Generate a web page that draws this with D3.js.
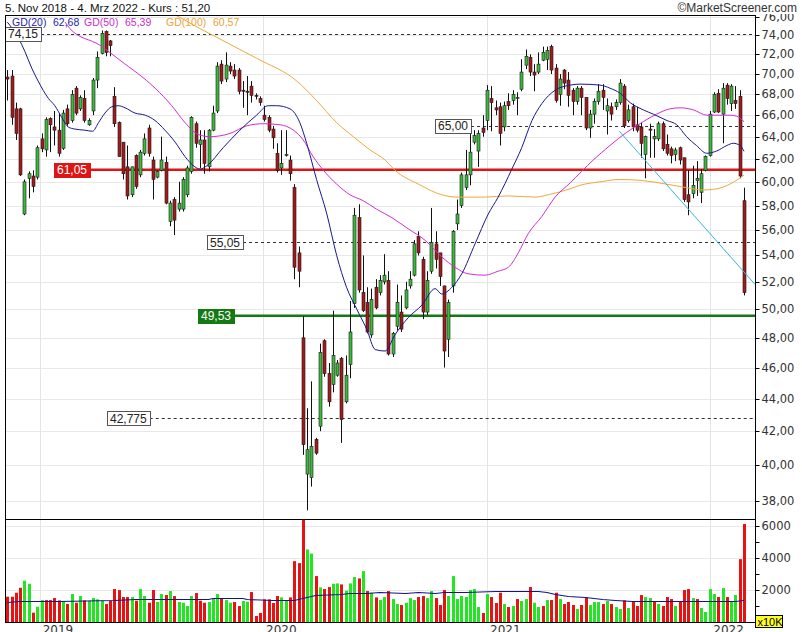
<!DOCTYPE html>
<html lang="de">
<head>
<meta charset="UTF-8">
<title>Kurs 5. Nov 2018 - 4. Mrz 2022</title>
<style>
  body { margin: 0; padding: 0; background: #fff; }
  svg { display: block; font-family: "Liberation Sans", Arial, sans-serif; }
  .axis text { font-family: "DejaVu Sans", Verdana, sans-serif; font-size: 11.5px; fill: #333; }
  .axis line { stroke: #000; }
  .axis path { display: none; }
</style>
</head>
<body>
<svg id="chart" width="802" height="632"></svg>
<script src="https://d3js.org/d3.v7.min.js"></script>
<script>
// weekly candles, Nov 2018 - Mar 2022
const opens = [
  69.7, 69.8, 66.6, 66.6, 57.3, 60.3, 60.5, 60.4, 63.8, 62.8,
  65.7, 64.9, 64.6, 62.95, 66.6, 65.5, 68.6, 66.6, 67.6, 65.1,
  66.4, 69.4, 72.1, 74.4, 73.4, 67.8, 65.3, 63.5, 61.3, 58.9,
  62.3, 60.6, 62.5, 64.8, 61.9, 60.4, 61.0, 61.7, 56.7, 58.5,
  57.7, 57.7, 58.9, 60.9, 65.2, 63.3, 63.7, 61.3, 64.6, 66.4,
  71.0, 69.5, 70.8, 70.4, 70.4, 68.4, 68.3, 68.8, 67.9, 67.6,
  66.0, 65.8, 64.7, 62.5, 61.2, 62.3, 61.9, 59.5, 54.2, 48.0,
  39.5, 39.3, 41.5, 42.3, 47.8, 45.6, 44.9, 45.5, 46.6, 43.8,
  46.2, 50.4, 57.0, 51.2, 50.5, 48.2, 51.6, 51.2, 52.0, 52.1,
  46.9, 48.8, 49.8, 50.1, 51.7, 52.5, 55.5, 53.7, 49.8, 52.8,
  54.9, 54.2, 51.7, 47.9, 51.7, 56.5, 58.0, 59.5, 60.6, 63.5,
  62.7, 64.8, 65.5, 67.6, 66.7, 66.8, 64.9, 67.3, 67.4, 67.7,
  68.5, 70.9, 71.7, 70.2, 70.2, 71.4, 71.5, 72.8, 70.6, 68.0,
  70.4, 69.4, 68.4, 67.3, 68.6, 67.7, 64.8, 66.1, 67.3, 68.4,
  66.4, 66.8, 66.8, 67.2, 68.8, 65.5, 66.8, 65.1, 64.9, 62.4,
  64.7, 63.8, 63.8, 65.2, 63.3, 62.9, 62.4, 63.0, 62.1, 58.9,
  59.0, 60.1, 59.1, 61.0, 62.3, 66.3, 68.1, 66.1, 68.9, 67.1,
  67.4, 67.8, 58.4
];
const highs = [
  70.4, 70.4, 67.2, 66.7, 60.2, 60.9, 61.0, 63.2, 64.3, 65.8,
  65.8, 66.4, 66.2, 66.5, 67.0, 68.4, 68.8, 67.9, 68.4, 65.7,
  69.6, 72.3, 74.5, 74.5, 73.5, 68.7, 65.4, 63.5, 63.2, 61.3,
  62.4, 62.8, 64.3, 65.1, 62.2, 61.0, 64.0, 62.2, 58.4, 58.7,
  60.0, 60.4, 61.4, 65.9, 65.4, 64.6, 64.6, 64.7, 66.9, 71.2,
  71.4, 72.2, 71.2, 71.0, 70.6, 69.3, 69.8, 69.3, 68.1, 67.8,
  66.9, 66.0, 65.0, 63.4, 64.6, 64.6, 62.3, 59.8, 54.7, 49.5,
  43.4, 45.1, 41.6, 47.6, 47.9, 46.3, 49.9, 46.5, 46.7, 46.8,
  50.6, 57.8, 58.1, 54.0, 51.6, 51.5, 52.2, 52.5, 54.1, 52.8,
  48.4, 51.8, 51.0, 52.0, 52.8, 55.2, 55.9, 53.9, 52.8, 57.8,
  55.9, 54.2, 51.7, 50.7, 56.0, 58.5, 60.8, 62.8, 64.5, 64.6,
  64.6, 66.0, 68.9, 68.8, 67.4, 67.2, 67.3, 68.1, 68.4, 68.2,
  71.5, 72.5, 72.0, 71.0, 72.2, 72.8, 72.8, 73.0, 71.0, 70.0,
  70.5, 70.2, 68.6, 68.8, 68.8, 67.7, 66.5, 67.6, 69.0, 69.0,
  67.6, 67.2, 67.5, 69.5, 69.0, 67.0, 67.1, 66.8, 65.3, 64.1,
  65.2, 64.7, 65.4, 65.4, 64.2, 63.1, 63.0, 63.1, 62.1, 61.0,
  61.4, 61.8, 61.1, 62.3, 66.4, 68.2, 68.5, 69.1, 69.1, 69.0,
  68.8, 68.4, 59.5
];
const lows = [
  67.4, 65.1, 63.7, 60.5, 57.2, 58.6, 59.1, 60.2, 62.6, 62.2,
  62.6, 63.2, 62.2, 62.8, 65.0, 65.3, 66.0, 66.4, 65.3, 65.0,
  66.0, 68.6, 72.0, 71.8, 71.8, 64.9, 62.2, 60.2, 58.5, 58.7,
  59.4, 60.4, 62.3, 62.2, 58.5, 60.3, 60.9, 58.1, 56.3, 55.6,
  57.5, 57.5, 58.7, 60.7, 63.0, 61.2, 60.7, 60.9, 64.5, 66.2,
  69.0, 69.2, 70.0, 69.5, 68.0, 66.7, 66.0, 67.2, 67.5, 66.9,
  65.4, 64.4, 62.9, 60.8, 60.6, 62.2, 60.1, 52.2, 51.6, 40.6,
  37.5, 38.8, 40.6, 42.0, 45.4, 43.5, 44.4, 45.4, 41.3, 43.7,
  45.3, 50.1, 51.2, 49.8, 48.3, 48.0, 50.0, 51.0, 51.8, 46.8,
  46.7, 48.5, 48.4, 50.0, 51.5, 52.4, 54.0, 49.3, 49.6, 52.6,
  53.0, 51.7, 46.0, 46.7, 51.2, 56.0, 57.8, 59.3, 59.7, 63.3,
  61.3, 64.0, 64.6, 64.5, 66.0, 63.2, 64.5, 66.5, 67.0, 66.0,
  68.3, 70.5, 69.8, 68.3, 70.0, 71.3, 70.4, 70.0, 67.2, 66.9,
  68.5, 66.8, 66.0, 67.0, 66.0, 64.6, 63.9, 65.2, 67.0, 66.5,
  64.2, 65.5, 66.5, 67.0, 64.8, 65.3, 64.5, 64.4, 62.1, 60.3,
  62.1, 62.1, 63.6, 62.7, 62.3, 61.6, 61.8, 61.5, 58.3, 57.2,
  58.6, 58.8, 58.2, 60.9, 62.2, 66.2, 66.2, 63.4, 67.0, 66.4,
  66.6, 60.3, 51.0
];
const closes = [
  69.5, 65.8, 64.3, 60.6, 60.0, 60.7, 59.6, 63.0, 62.9, 65.6,
  65.1, 64.6, 62.5, 66.2, 65.2, 68.0, 66.2, 67.7, 65.5, 65.5,
  69.4, 71.7, 74.2, 72.2, 72.9, 65.2, 62.2, 60.7, 58.8, 61.3,
  59.6, 62.6, 63.8, 62.5, 60.2, 60.9, 61.9, 58.2, 58.2, 56.8,
  58.2, 60.2, 61.2, 65.8, 63.4, 63.7, 61.6, 64.6, 66.2, 70.8,
  69.3, 70.9, 70.3, 69.8, 68.3, 68.3, 68.2, 67.9, 67.8, 67.2,
  65.6, 64.6, 63.9, 61.0, 61.6, 62.4, 60.7, 53.1, 52.8, 41.2,
  40.9, 41.1, 40.7, 47.0, 45.6, 43.8, 46.8, 46.3, 42.7, 45.5,
  48.4, 57.2, 51.4, 49.9, 48.4, 50.7, 50.1, 52.1, 52.5, 46.9,
  48.3, 50.5, 48.6, 51.4, 52.2, 54.9, 54.2, 49.8, 52.1, 55.0,
  53.7, 52.4, 47.1, 50.5, 55.9, 57.3, 60.6, 60.6, 62.6, 64.1,
  64.3, 64.4, 68.4, 67.2, 66.5, 64.3, 66.9, 66.9, 68.0, 67.7,
  70.2, 71.8, 70.2, 69.9, 71.0, 72.2, 72.4, 70.4, 67.4, 69.5,
  69.1, 67.9, 67.3, 68.6, 67.7, 64.8, 66.1, 67.3, 68.3, 67.7,
  66.9, 66.1, 67.2, 69.1, 65.0, 66.5, 64.9, 64.6, 63.4, 64.0,
  64.6, 64.0, 65.2, 62.9, 62.5, 62.3, 62.8, 61.9, 58.5, 58.3,
  59.7, 60.3, 60.7, 62.2, 66.1, 68.0, 66.3, 68.6, 67.6, 68.8,
  67.1, 60.5, 51.2
];
// volume in units of 10K
const volumes = [
  1573, 1573, 1822, 2132, 2567, 2380, 580, 952, 1366, 1366,
  1366, 1490, 1345, 1304, 1118, 1739, 1200, 1615, 1345, 1325,
  1490, 1408, 1325, 1118, 1325, 2049, 1987, 1553, 1553, 1553,
  1325, 2049, 1615, 1200, 1987, 1242, 1739, 1677, 1925, 1615,
  1242, 1200, 994, 1615, 1801, 1325, 1200, 1242, 1470, 1739,
  1470, 1366, 1200, 1242, 994, 1304, 1263, 1863, 373, 559,
  1408, 1408, 1180, 1615, 1532, 1304, 1532, 3788, 3664, 6400,
  4513, 4264, 2857, 2153, 2049, 2174, 2380, 2401, 2339, 1946,
  2401, 2795, 2712, 3167, 1925, 1822, 1532, 1366, 1553, 1925,
  1428, 1118, 1056, 1200, 1490, 1366, 1553, 1615, 1490, 1925,
  1490, 1056, 1987, 1615, 2857, 1428, 1615, 1553, 1987, 2049,
  932, 559, 1739, 1553, 1180, 1822, 1118, 932, 994, 1428,
  1304, 1428, 2174, 1200, 932, 994, 1366, 1366, 1822, 1428,
  1118, 1242, 1056, 807, 1056, 1532, 1056, 1242, 1242, 1118,
  1304, 1118, 932, 807, 1345, 869, 1242, 994, 1677, 1553,
  1490, 1242, 1118, 994, 1553, 1428, 994, 1242, 1987, 2049,
  1490, 1428, 869, 621, 2049, 1739, 1553, 2111, 1553, 1242,
  1677, 3912, 6100
];
// g = up bar, r = down bar (volume colours as shown)
const volDir = ("rrrrggrggr" + "rrrgrgrgrg" + "gggrrrrrrg" + "rggrrggrgr" + "ggggrrrggg" +
  "rggrrggrrr" + "rrrrggrrrr" + "ggrgrrggrg" + "ggrgrgrggr" + "ggrgggrrgg" +
  "rrrggggggg" + "grgrrrgrgr" + "ggrggrgrrg" + "rrrgrrgggr" + "grggrgrrrg" +
  "grgrrrgrrr" + "grggggrgrg" + "grr").split("");

// moving averages: [week index, value]
const ma20 = [[0,75.4],[2.6,73.7],[4.1,72.3],[5.7,70.6],[7.2,69.3],[9.6,67.6],[11.1,66.9],[12.7,65.8],
  [14.2,64.9],[15.8,64.7],[18.1,64.6],[19.9,64.5],[21.3,65.3],[22.8,66.2],[24.4,66.8],[25.9,66.9],
  [27.5,66.7],[29.8,66.2],[32.2,66.0],[34.5,65.5],[36.8,64.6],[39.2,63.5],[41.5,62.2],[43.8,61.3],
  [45,61.1],[46.6,61.4],[50.4,63.0],[54.3,64.6],[58.2,66.0],[60.9,66.9],[62.9,66.9],[66,66.6],
  [68.3,65.3],[69.9,63.4],[72.2,60.2],[74.6,57.3],[76.9,54.0],[79.2,51.6],[81.6,50.0],[83.9,48.6],
  [85.9,47.2],[88.2,47.1],[90.5,48.2],[93.6,49.4],[96.8,50.3],[99.9,51.5],[101.4,51.1],[103.8,51.6],
  [106.1,52.6],[109.2,54.9],[112.3,57.3],[114.6,58.7],[117.8,61.1],[120.1,63.0],[122.5,65.5],
  [124.8,67.1],[127.9,68.4],[131.4,68.9],[133.7,69.0],[138.4,68.9],[140.7,68.6],[143.1,68.1],
  [145.4,67.2],[148.5,66.5],[150.8,66.1],[154,65.5],[156.3,65.1],[158.6,64.0],[160.9,63.2],
  [163.3,62.5],[165.6,62.7],[168,63.2],[169.5,63.4],[171.1,63.2],[172,62.68]];
const ma50 = [[13.5,75.4],[14.6,74.7],[21.6,72.95],[26.3,71.4],[34.5,68.6],[38.4,66.9],[41.5,65.3],
  [44.6,64.2],[47.3,64.0],[52,64.3],[55.9,65.0],[59.8,65.2],[63.7,65.1],[66.8,64.6],[69.1,63.7],
  [71.4,62.2],[73.8,61.0],[76.9,59.8],[80,58.9],[83.1,58.4],[86.2,57.7],[89.8,57.0],[93.6,56.1],
  [97.5,55.2],[101.4,53.9],[104.5,53.1],[107.6,52.6],[111.5,52.5],[114.6,52.8],[117,53.1],
  [119.3,54.2],[121.6,55.7],[124.8,57.1],[127.9,58.7],[131.4,59.9],[136.8,61.9],[140.7,63.2],
  [144.6,64.4],[148.5,65.4],[151.6,66.1],[154.7,66.6],[157.1,66.7],[160.2,66.5],[163.3,66.0],
  [166.4,66.0],[168.7,66.0],[170.3,65.9],[172,65.39]];
const ma100 = [[38,76.5],[45,74.7],[58.2,71.6],[67.6,69.3],[72.2,67.4],[76.9,65.3],[80.8,64.0],
  [84.7,62.8],[88.2,61.9],[90.5,61.0],[96,59.8],[101.4,58.9],[105.3,58.7],[111.5,58.7],[117,58.8],
  [123.2,58.7],[126.3,58.9],[131.4,59.4],[133.7,59.7],[138.4,60.0],[143.1,60.2],[148.5,60.1],
  [153.9,59.8],[158.6,59.5],[162.5,59.3],[165.6,59.4],[168.7,59.8],[172,60.57]];
const volMA = [[0,1221],[3,1304],[12,1325],[25,1345],[30,1408],[47,1408],[48,1470],[55,1470],
  [56,1408],[62,1387],[63,1345],[67,1345],[68,1450],[69,1511],[70,1573],[71,1635],[72,1677],
  [78,1718],[80,1780],[84,1822],[87,1842],[93,1822],[96,1842],[100,1780],[102,1842],[107,1884],
  [114,1904],[117,1946],[122,1946],[124,1904],[126,1842],[128,1739],[131,1594],[135,1532],
  [139,1449],[142,1366],[146,1304],[170,1304],[172,1366]];
// falling trend line: [week index, price]
const trendLine = [[142.9, 64.5], [174.6, 51.8]];

// horizontal levels
const levelValues = [74.15, 65.00, 55.05, 42.775, 61.05, 49.53];
const levelLabels = ["74,15", "65,00", "55,05", "42,775", "61,05", "49,53"];

const priceTicks = d3.range(38, 77, 2);
const volTicks = [1000, 2000, 3000, 4000, 5000, 6000];
const years = [2019, 2020, 2021, 2022];
const legendNames = ["GD(20)", "GD(50)", "GD(100)"];
const legendValues = ["62,68", "65,39", "60,57"];

const n = closes.length;
const svg = d3.select("#chart");
const L = 5, R = 755, T = 15, MB = 519, VB = 622;

const x = d3.scaleLinear().domain([0, n - 1]).range([7.3, 744]);
const y = d3.scaleLog().domain([37.04, 76.17]).range([MB, T]);
const yv = d3.scaleLinear().domain([0, 6410]).range([VB, MB]);
const dates = d3.range(n).map(i => d3.timeWeek.offset(new Date(2018, 10, 9), i));
const xt = d3.scaleTime().domain([dates[0], dates[n - 1]]).range([x(0), x(n - 1)]);
const fmt = d => d3.format(".2f")(d).replace(".", ",");
const px = v => Math.round(v) + 0.5;

svg.append("defs").append("clipPath").attr("id", "clipMain")
  .append("rect").attr("x", L).attr("y", T).attr("width", R - L).attr("height", MB - T);
svg.select("defs").append("clipPath").attr("id", "clipVol")
  .append("rect").attr("x", L).attr("y", MB).attr("width", R - L).attr("height", VB - MB);

// grid
const grid = svg.append("g");
grid.selectAll(".hg").data(priceTicks).join("line")
  .attr("x1", L).attr("x2", R).attr("y1", d => px(y(d))).attr("y2", d => px(y(d)))
  .attr("stroke", "#e8e8e8");
grid.selectAll(".vg").data([2000, 4000, 6000]).join("line")
  .attr("x1", L).attr("x2", R).attr("y1", d => px(yv(d))).attr("y2", d => px(yv(d)))
  .attr("stroke", "#e8e8e8");
grid.selectAll(".yg").data(years).join("line")
  .attr("x1", d => px(xt(new Date(d, 0, 1)))).attr("x2", d => px(xt(new Date(d, 0, 1))))
  .attr("y1", T).attr("y2", VB).attr("stroke", "#e4e4e4");

// levels
const main = svg.append("g").attr("clip-path", "url(#clipMain)");
const levelStyle = [
  { kind: "dash", boxX: 5 }, { kind: "dash", boxX: 435 }, { kind: "dash", boxX: 207 },
  { kind: "dash", boxX: 107 }, { kind: "red", boxX: 54 }, { kind: "green", boxX: 198 }
];
const levelColor = { dash: "#333", red: "#dd1515", green: "#137a13" };
const labelLayer = svg.append("g");
levelValues.forEach((v, i) => {
  const st = levelStyle[i];
  const yy = y(v);
  const g = labelLayer.append("g");
  const t = g.append("text").attr("x", st.boxX + 3).attr("y", yy + 4.5)
    .attr("font-size", 12).attr("fill", st.kind === "dash" ? "#222" : "#fff").text(levelLabels[i]);
  const w = t.node().getComputedTextLength() + 6;
  g.insert("rect", "text").attr("x", st.boxX + 0.5).attr("y", Math.round(yy - 7) + 0.5)
    .attr("width", Math.round(w)).attr("height", 14)
    .attr("fill", st.kind === "dash" ? "#fff" : levelColor[st.kind])
    .attr("stroke", st.kind === "dash" ? "#555" : levelColor[st.kind]);
  const line = main.append("line").attr("x1", st.boxX + w).attr("x2", R)
    .attr("y1", px(yy)).attr("y2", px(yy)).attr("stroke", levelColor[st.kind]);
  if (st.kind === "dash") line.attr("stroke-dasharray", "3,3").attr("stroke-width", 1);
  else line.attr("stroke-width", 2.5).attr("y1", yy).attr("y2", yy);
});

// candles
const idx = d3.range(n);
main.selectAll(".wick").data(idx).join("line")
  .attr("x1", i => px(x(i))).attr("x2", i => px(x(i)))
  .attr("y1", i => y(highs[i])).attr("y2", i => y(lows[i]))
  .attr("stroke", "#111").attr("stroke-width", 1);
main.selectAll(".body").data(idx).join("rect")
  .attr("x", i => px(x(i)) - 1.5).attr("width", 3)
  .attr("y", i => y(Math.max(opens[i], closes[i])))
  .attr("height", i => Math.max(1, Math.abs(y(opens[i]) - y(closes[i]))))
  .attr("fill", i => closes[i] >= opens[i] ? "#3cba3c" : "#a31a1a")
  .attr("stroke", "#1a1a1a").attr("stroke-width", 0.6);

// moving averages and trend line
const lineGen = d3.line().x(d => x(d[0])).y(d => y(d[1])).curve(d3.curveMonotoneX);
[[ma100, "#eea93a"], [ma50, "#d22ed2"], [ma20, "#18188f"]].forEach(([pts, c]) => {
  main.append("path").datum(pts).attr("d", lineGen)
    .attr("fill", "none").attr("stroke", c).attr("stroke-width", 1);
});
main.append("path").datum(trendLine).attr("d", d3.line().x(d => x(d[0])).y(d => y(d[1])))
  .attr("fill", "none").attr("stroke", "#35b8de").attr("stroke-width", 1);

labelLayer.raise();

// volume
const vol = svg.append("g").attr("clip-path", "url(#clipVol)");
vol.selectAll("rect").data(idx).join("rect")
  .attr("x", i => Math.round(x(i)) - 1).attr("width", 3)
  .attr("y", i => yv(volumes[i])).attr("height", i => yv(0) - yv(volumes[i]))
  .attr("fill", i => volDir[i] === "g" ? "#22e622" : "#e81212");
vol.append("path").datum(volMA)
  .attr("d", d3.line().x(d => x(d[0])).y(d => Math.round(yv(d[1])) + 0.5))
  .attr("fill", "none").attr("stroke", "#12128c").attr("stroke-width", 1.2);

// frames
svg.append("rect").attr("x", L + 0.5).attr("y", T + 0.5).attr("width", R - L).attr("height", MB - T)
  .attr("fill", "none").attr("stroke", "#000");
svg.append("rect").attr("x", L + 0.5).attr("y", MB + 0.5).attr("width", R - L).attr("height", VB - MB)
  .attr("fill", "none").attr("stroke", "#000");

// axes
svg.append("g").attr("class", "axis").attr("transform", `translate(${R + 0.5},0)`)
  .call(d3.axisRight(y).tickValues(priceTicks).tickFormat(fmt).tickSize(4).tickPadding(2))
  .selectAll(".tick").attr("transform", d => `translate(0,${px(y(d))})`);
svg.append("g").attr("class", "axis").attr("transform", `translate(${R + 0.5},0)`)
  .call(d3.axisRight(yv).tickValues(volTicks).tickFormat(d => d % 2000 === 0 ? d : "").tickSize(4).tickPadding(2))
  .selectAll(".tick").attr("transform", d => `translate(0,${px(yv(d))})`);

svg.selectAll(".yl").data(years).join("text")
  .attr("x", d => xt(new Date(d, 0, 1)) + 3).attr("y", 634)
  .attr("font-family", "DejaVu Sans, sans-serif").attr("font-size", 12).attr("fill", "#333")
  .text(d => d);

// x10K badge
svg.append("rect").attr("x", 755.5).attr("y", 615.5).attr("width", 27).attr("height", 12)
  .attr("fill", "#ffff22").attr("stroke", "#000");
svg.append("text").attr("x", 757.5).attr("y", 625.5).attr("font-size", 11).attr("fill", "#000").text("x10K");

// header
svg.append("text").attr("x", 5).attr("y", 12).attr("font-size", 11.5).attr("fill", "#111")
  .text("5. Nov 2018 - 4. Mrz 2022 - Kurs : 51,20");
svg.append("rect").attr("x", 676).attr("y", 0).attr("width", 126).attr("height", 14).attr("fill", "#fff");
svg.append("text").attr("x", 797).attr("y", 12).attr("text-anchor", "end")
  .attr("font-size", 12).attr("fill", "#333").text("\u00A9MarketScreener.com");

const legendColors = ["#2424a8", "#cc2ccc", "#e9a43a"];
const legendX = [12, 53, 84, 125, 166, 213];
legendNames.forEach((name, i) => {
  svg.append("text").attr("x", legendX[i * 2]).attr("y", 26).attr("font-size", 10.5)
    .attr("fill", legendColors[i]).text(name);
  svg.append("text").attr("x", legendX[i * 2 + 1]).attr("y", 26).attr("font-size", 10.5)
    .attr("fill", legendColors[i]).text(legendValues[i]);
});
</script>
</body>
</html>
